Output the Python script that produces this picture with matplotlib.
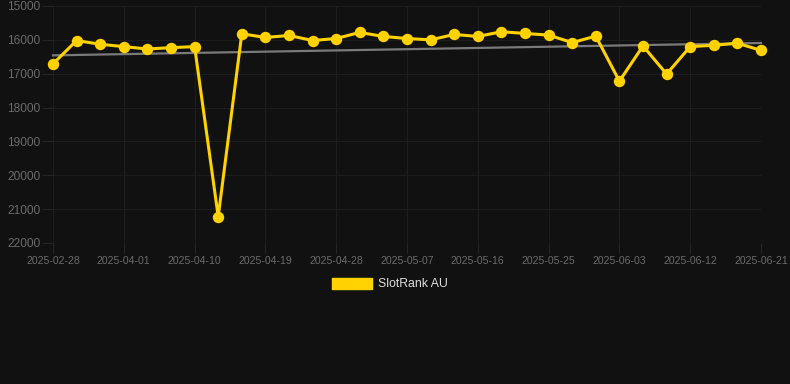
import numpy as np
import matplotlib
matplotlib.use("Agg")
import matplotlib.pyplot as plt
from matplotlib.patches import Patch

# rank per date (lower is better, so the axis is inverted)
dates = ['2025-02-28', '2025-03-26', '2025-03-29', '2025-04-01', '2025-04-04', '2025-04-07',
         '2025-04-10', '2025-04-13', '2025-04-16', '2025-04-19', '2025-04-22', '2025-04-25',
         '2025-04-28', '2025-05-01', '2025-05-04', '2025-05-07', '2025-05-10', '2025-05-13',
         '2025-05-16', '2025-05-19', '2025-05-22', '2025-05-25', '2025-05-28', '2025-05-31',
         '2025-06-03', '2025-06-06', '2025-06-09', '2025-06-12', '2025-06-15', '2025-06-18',
         '2025-06-21']
rank = [16710, 16020, 16130, 16200, 16270, 16230, 16200, 21220, 15820, 15930, 15870, 16020,
        15960, 15780, 15900, 15960, 16000, 15840, 15900, 15760, 15810, 15860, 16080, 15890,
        17220, 16180, 17010, 16200, 16160, 16100, 16310]
y_ticks = [15000, 16000, 17000, 18000, 19000, 20000, 21000, 22000]

bg = '#111111'
yellow = '#FFD200'
plt.rcParams['font.family'] = ['Liberation Sans', 'DejaVu Sans']

fig = plt.figure(figsize=(7.9, 3.84), dpi=100, facecolor=bg)
ax = fig.add_axes([53/790, 1 - 243/384, (761 - 53)/790, (243 - 6)/384], facecolor=bg)

x = np.arange(len(dates))

# trend line (least squares fit)
k, b = np.polyfit(x, rank, 1)
ax.plot(x, k*x + b, color='#7a7a7a', lw=1.6, zorder=2, clip_on=False)

ax.plot(x, rank, color=yellow, lw=2.2, marker='o', markersize=7.2,
        solid_joinstyle='miter', zorder=3, clip_on=False)

ax.set_xlim(0, len(dates) - 1)
ax.set_ylim(22000, 15000)
ax.set_yticks(y_ticks)
ax.set_xticks(x[::3])
ax.set_xticklabels(dates[::3])

for s in ax.spines.values():
    s.set_visible(False)
ax.grid(True, color='#1d1d1d', lw=0.8)
ax.tick_params(axis='both', colors='#252525', labelcolor='#6b6b6b', labelsize=7.6, length=7, width=0.8)
ax.tick_params(axis='y', labelsize=8.6, pad=1, length=8)
ax.tick_params(axis='x', pad=2)

fig.legend(handles=[Patch(facecolor=yellow, edgecolor=yellow, label='SlotRank AU')],
           loc='center', bbox_to_anchor=(390/790, 1 - 284/384), frameon=False,
           handlelength=3.3, handleheight=1.0, fontsize=8.8, labelcolor='#dddddd',
           handletextpad=0.5)

fig.savefig('out.png', dpi=100, facecolor=bg)
